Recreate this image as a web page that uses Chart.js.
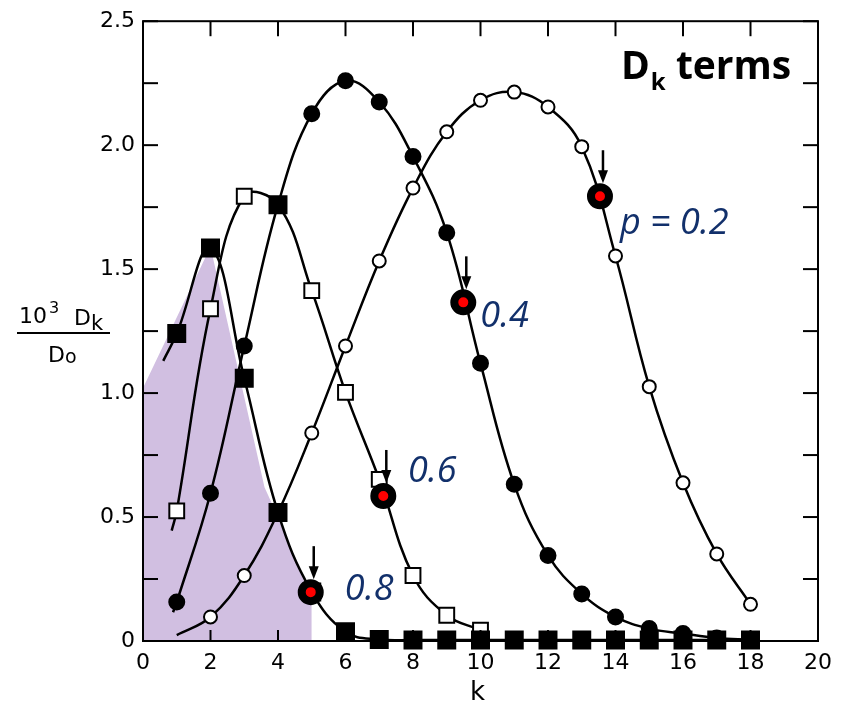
<!DOCTYPE html>
<html>
<head>
<meta charset="utf-8">
<script src="https://cdn.jsdelivr.net/npm/chart.js@4.4.0/dist/chart.umd.min.js"></script>
<style>
  html, body { margin: 0; padding: 0; background: #fff; }
</style>
</head>
<body>
<canvas id="c" width="844" height="704"></canvas>
<script>
// ---------- Data ----------
const K_ALL = [1, 2, 3, 4, 5, 6, 7, 8, 9, 10, 11, 12, 13, 14, 15, 16, 17, 18];

// p = 0.2 (open circles)
const P02_K = K_ALL;
const P02 = [0.024, 0.097, 0.264, 0.518, 0.839, 1.19, 1.533, 1.827, 2.054, 2.181, 2.214, 2.154, 1.994, 1.553, 1.026, 0.638, 0.351, 0.148];

// p = 0.4 (filled circles), first point is the start of the drawn curve
const P04_K = [0.89, 1, 2, 3, 4, 5, 6, 7, 8, 9, 10, 11, 12, 13, 14, 15, 16, 17, 18];
const P04 = [0.116, 0.157, 0.596, 1.19, 1.76, 2.127, 2.26, 2.174, 1.954, 1.647, 1.12, 0.632, 0.345, 0.19, 0.097, 0.05, 0.03, 0.012, 0.005];

// p = 0.6 (open squares)
const P06_K = [0.85, 1, 2, 3, 4, 5, 6, 7, 8, 9, 10];
const P06 = [0.445, 0.525, 1.34, 1.794, 1.76, 1.413, 1.003, 0.652, 0.264, 0.104, 0.044];

// p = 0.8 (filled squares)
const P08_K = [0.6, 1, 2, 3, 4, 5, 6, 7, 8, 9, 10, 11, 12, 13, 14, 15, 16, 17, 18];
const P08 = [1.13, 1.24, 1.585, 1.06, 0.518, 0.198, 0.037, 0.006, 0.004, 0.004, 0.004, 0.004, 0.004, 0.004, 0.004, 0.004, 0.004, 0.004, 0.004];

// shaded region under the p = 0.8 curve
const SHADE_K = [0, 2, 3.6, 4.1, 4.5, 5];
const SHADE = [1.02, 1.59, 0.62, 0.47, 0.33, 0.19];

// highlighted points (red dots with arrows)
const MARK_K = [4.97, 7.12, 9.49, 13.54];
const MARK = [0.197, 0.585, 1.366, 1.794];

// curve labels (left edge / baseline in data units)
const LABELS = ['0.8', '0.6', '0.4', 'p = 0.2'];
const LABEL_K = [5.98, 7.85, 9.99, 14.13];
const LABEL_Y = [0.164, 0.64, 1.266, 1.643];

const X_TICKS = [0, 20, 2];     // min, max, step
const Y_TICKS = [0, 2.5, 0.25];

const pts = (ks, vs) => ks.map((k, i) => ({ x: k, y: vs[i] }));

const NAVY = '#12306b';
const TICK_FONT = { family: "'DejaVu Sans', sans-serif", size: 22 };

// first point of the stub curves carries no marker
const hideFirst = r => ctx => ctx.dataIndex === 0 ? 0 : r;

function curve(data, style, radius, fillCol, extra = {}) {
  return Object.assign({
    data,
    showLine: true,
    borderColor: '#000',
    borderWidth: 2.5,
    tension: 0.4,
    pointStyle: style,
    pointRadius: hideFirst(radius),
    pointBorderWidth: 2,
    pointBorderColor: '#000',
    pointBackgroundColor: fillCol,
    fill: false,
    clip: 16,
    order: 1,
  }, extra);
}

// ---------- Decorations: frame, inward ticks, arrows, texts ----------
const decor = {
  id: 'decor',
  afterDatasetsDraw(chart) {
    const { ctx, chartArea: a, scales: { x, y } } = chart;
    const seg = (x1, y1, x2, y2) => { ctx.beginPath(); ctx.moveTo(x1, y1); ctx.lineTo(x2, y2); ctx.stroke(); };
    ctx.save();
    ctx.strokeStyle = '#000';
    ctx.fillStyle = '#000';
    ctx.lineWidth = 2;
    ctx.strokeRect(a.left, a.top, a.right - a.left, a.bottom - a.top);

    y.ticks.forEach(t => {
      const py = y.getPixelForValue(t.value);
      seg(a.left, py, a.left + 15, py);
      seg(a.right - 15, py, a.right, py);
    });
    x.ticks.forEach(t => {
      const px = x.getPixelForValue(t.value);
      seg(px, a.top, px, a.top + 15);
      seg(px, a.bottom - 11, px, a.bottom);
    });

    // arrows above highlighted points
    ctx.lineWidth = 2.5;
    MARK_K.forEach((k, i) => {
      const px = x.getPixelForValue(k) + 3;
      const py = y.getPixelForValue(MARK[i]);
      seg(px, py - 46, px, py - 24);
      ctx.beginPath();
      ctx.moveTo(px - 5, py - 26);
      ctx.lineTo(px + 5, py - 26);
      ctx.lineTo(px, py - 13);
      ctx.closePath();
      ctx.fill();
    });

    // curve labels
    ctx.fillStyle = NAVY;
    ctx.font = "italic 36px 'Open Sans', sans-serif";
    ctx.textBaseline = 'alphabetic';
    ctx.textAlign = 'left';
    LABELS.forEach((s, i) => ctx.fillText(s, x.getPixelForValue(LABEL_K[i]), y.getPixelForValue(LABEL_Y[i])));

    // title in the corner
    ctx.fillStyle = '#000';
    let tx = a.right - 197;
    ctx.font = "bold 39px 'Open Sans', sans-serif";
    ctx.fillText('D', tx, a.top + 58);
    tx += ctx.measureText('D').width + 1;
    ctx.font = "bold 24px 'Open Sans', sans-serif";
    ctx.fillText('k', tx, a.top + 69);
    tx += ctx.measureText('k').width;
    ctx.font = "bold 39px 'Open Sans', sans-serif";
    ctx.fillText(' terms', tx, a.top + 58);

    // y-axis title: 10^3 Dk / Do
    ctx.font = "22px 'DejaVu Sans', sans-serif";
    ctx.fillText('10', 19, 323);
    ctx.font = "16px 'DejaVu Sans', sans-serif";
    ctx.fillText('3', 49, 313);
    ctx.font = "22px 'DejaVu Sans', sans-serif";
    ctx.fillText('D', 74, 325);
    ctx.font = "21px 'DejaVu Sans', sans-serif";
    ctx.fillText('k', 91, 330);
    ctx.lineWidth = 2;
    seg(17, 333, 110, 333);
    ctx.font = "22px 'DejaVu Sans', sans-serif";
    ctx.fillText('D', 48, 362);
    ctx.font = "19px 'DejaVu Sans', sans-serif";
    ctx.fillText('o', 65, 363);

    // x-axis title
    ctx.font = "26px 'DejaVu Sans', sans-serif";
    ctx.textAlign = 'center';
    ctx.fillText('k', (a.left + a.right) / 2 - 3, 700);
    ctx.restore();
  }
};

// ---------- Chart ----------
new Chart(document.getElementById('c'), {
  type: 'scatter',
  data: {
    datasets: [
      {
        data: pts(MARK_K, MARK),
        pointRadius: 9,
        pointBorderWidth: 8,
        pointBorderColor: '#000',
        pointBackgroundColor: '#ff0000',
        showLine: false,
        clip: 16,
        order: 0,
      },
      curve(pts(P08_K, P08), 'rect', 12, '#000'),
      // at k = 4 the p = 0.6 and p = 0.4 points coincide and print as one filled square
      curve(pts(P06_K, P06), 'rect', 10.5, ctx => ctx.dataIndex === 4 ? '#000' : '#fff',
        { pointRadius: ctx => ctx.dataIndex === 0 ? 0 : (ctx.dataIndex === 4 ? 12 : 10.5) }),
      curve(pts(P04_K, P04), 'circle', 7.5, '#000'),
      curve(pts(P02_K, P02), 'circle', 6.5, '#fff'),
      {
        data: pts(SHADE_K, SHADE),
        showLine: true,
        borderWidth: 0,
        pointRadius: 0,
        tension: 0,
        fill: 'origin',
        backgroundColor: 'rgb(209,191,225)',
        order: 5,
      },
    ]
  },
  options: {
    responsive: false,
    animation: false,
    layout: { padding: { top: 17, right: 26, left: 0, bottom: 0 } },
    plugins: { legend: { display: false }, tooltip: { enabled: false } },
    scales: {
      x: {
        type: 'linear',
        min: X_TICKS[0], max: X_TICKS[1],
        grid: { display: false, drawTicks: false },
        border: { display: false },
        ticks: { stepSize: X_TICKS[2], autoSkip: false, color: '#000', font: TICK_FONT, padding: 9, maxRotation: 0 },
        afterFit: s => { s.height = 63; },
      },
      y: {
        min: Y_TICKS[0], max: Y_TICKS[1],
        grid: { display: false, drawTicks: false },
        border: { display: false },
        ticks: {
          stepSize: Y_TICKS[2], autoSkip: false, color: '#000', font: TICK_FONT, padding: 8,
          callback: v => Math.abs(v * 2 - Math.round(v * 2)) < 1e-6 ? (v === 0 ? '0' : v.toFixed(1)) : '',
        },
        afterFit: s => { s.width = 143; },
      },
    },
  },
  plugins: [decor],
});
</script>
</body>
</html>
